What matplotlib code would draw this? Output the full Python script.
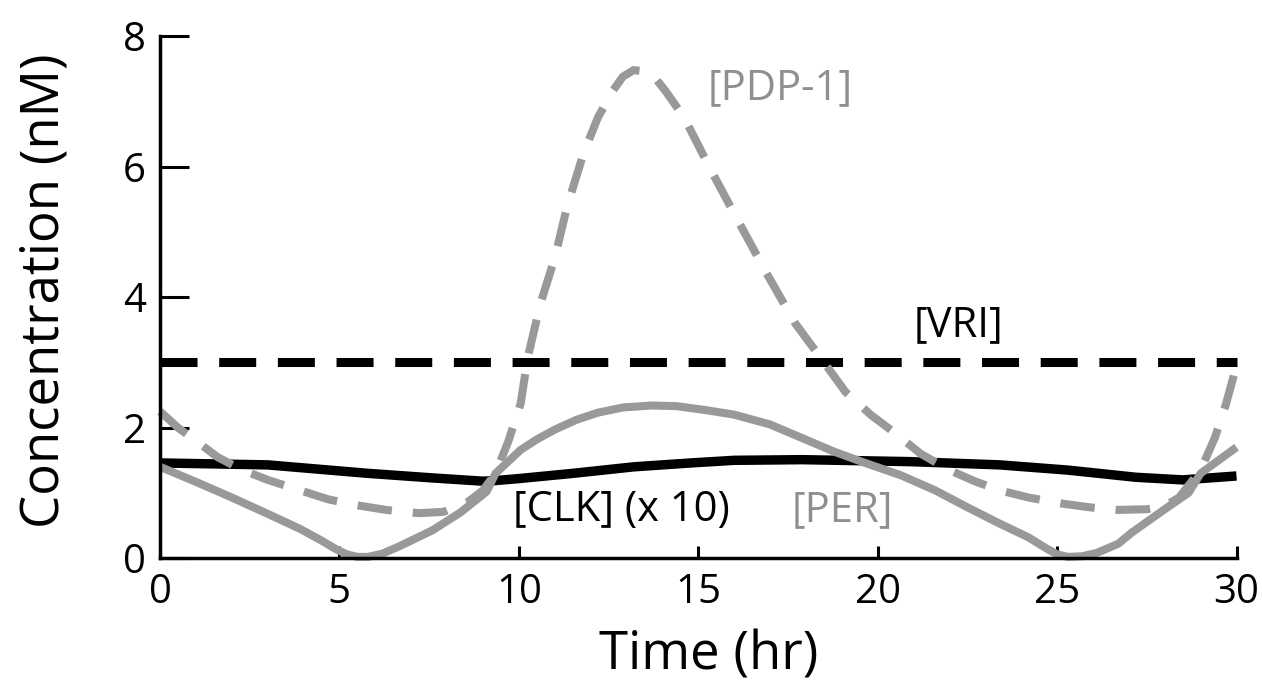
import numpy as np
import matplotlib
matplotlib.use("Agg")
import matplotlib.pyplot as plt

plt.rcParams['font.family'] = ['Open Sans', 'DejaVu Sans']

# valeurs (temps en h, concentration en nM)
t_per = [0, 1.0, 2.0, 3.0, 3.9, 4.5, 4.9, 5.2, 5.5, 5.8, 6.2, 6.7, 7.6, 8.37,
         9.1, 9.35, 10.05, 10.5, 11.0, 11.6, 12.2, 12.9, 13.7, 14.4, 15.2,
         16.0, 17.0, 17.9, 18.8, 19.7, 20.65, 21.6, 22.5, 23.4, 24.2, 24.7,
         25.0, 25.3, 25.7, 26.1, 26.7, 27.1, 28.0, 28.66, 29.0, 30.0]
per = [1.40, 1.17, 0.93, 0.68, 0.45, 0.27, 0.14, 0.06, 0.02, 0.02, 0.07, 0.19,
       0.43, 0.70, 1.02, 1.30, 1.66, 1.82, 1.97, 2.12, 2.23, 2.31, 2.34, 2.33,
       2.27, 2.20, 2.05, 1.84, 1.63, 1.45, 1.27, 1.04, 0.78, 0.53, 0.32, 0.15,
       0.06, 0.02, 0.03, 0.08, 0.22, 0.40, 0.75, 1.0, 1.30, 1.70]

t_pdp = [0, 0.5, 1.0, 1.6, 2.3, 3.0, 3.9, 4.7, 5.5, 6.3, 7.2, 7.9, 8.6, 9.0,
         9.35, 9.7, 10.05, 10.25, 10.6, 11.0, 11.35, 11.8, 12.2, 12.6, 12.9,
         13.2, 13.5, 13.8, 14.1, 14.6, 15.35, 16.1, 16.9, 17.7, 18.4, 19.1,
         19.8, 20.5, 21.2, 22.0, 22.7, 23.4, 24.2, 25.1, 25.9, 26.7, 27.5,
         28.0, 28.4, 29.0, 29.4, 29.7, 30.0]
pdp1 = [2.25, 2.0, 1.8, 1.55, 1.35, 1.2, 1.04, 0.9, 0.81, 0.74, 0.69, 0.71,
        0.87, 1.04, 1.30, 1.78, 2.37, 3.08, 3.9, 4.6, 5.4, 6.2, 6.75, 7.15,
        7.38, 7.48, 7.46, 7.36, 7.15, 6.76, 5.95, 5.18, 4.37, 3.6, 3.08, 2.55,
        2.2, 1.91, 1.6, 1.35, 1.18, 1.04, 0.93, 0.84, 0.78, 0.74, 0.75, 0.8,
        0.93, 1.35, 1.85, 2.35, 2.95]

t_clk = [0, 3.0, 5.8, 7.6, 9.0, 9.35, 10.0, 11.5, 13.2, 14.8, 16.0, 17.9,
         20.9, 23.4, 25.3, 27.2, 28.5, 29.0, 30.0]
clk = [1.46, 1.43, 1.30, 1.23, 1.18, 1.19, 1.22, 1.30, 1.40, 1.46, 1.50,
       1.51, 1.48, 1.43, 1.35, 1.24, 1.20, 1.22, 1.26]

t_vri = [0, 30]
vri = [3.0, 3.0]

xticks = [0, 5, 10, 15, 20, 25, 30]
yticks = [0, 2, 4, 6, 8]

gris = '#999999'
gris_txt = '#8f8f8f'

fig = plt.figure(figsize=(12.62, 6.96), dpi=100)
ax = fig.add_axes([0.1268, 0.198, 0.853, 0.75])

ax.plot(t_vri, vri, color='black', lw=6.5, dashes=(4.1, 2.4),
        dash_capstyle='butt', clip_on=False)
ax.plot(t_clk, clk, color='black', lw=6.8, solid_capstyle='butt',
        solid_joinstyle='round', clip_on=False)
ax.plot(t_per, per, color=gris, lw=5.8, solid_capstyle='butt',
        solid_joinstyle='round', clip_on=False)
ax.plot(t_pdp, pdp1, color=gris, lw=5.8, dashes=(4.3, 2.6),
        dash_capstyle='butt', dash_joinstyle='round', clip_on=False)

ax.text(15.27, 7.2, '[PDP-1]', color=gris_txt, fontsize=30, va='center')
ax.text(21.0, 3.57, '[VRI]', color='black', fontsize=30, va='center')
ax.text(9.85, 0.74, '[CLK] (x 10)', color='black', fontsize=30, va='center')
ax.text(17.6, 0.74, '[PER]', color=gris_txt, fontsize=30, va='center')

ax.set_xlim(0, 30)
ax.set_ylim(0, 8)
ax.set_xticks(xticks)
ax.set_yticks(yticks)
ax.spines['top'].set_visible(False)
ax.spines['right'].set_visible(False)
for s in ('left', 'bottom'):
    ax.spines[s].set_linewidth(2.5)
ax.tick_params(axis='y', direction='in', length=21, width=2.2, pad=10,
               labelsize=29)
ax.tick_params(axis='x', direction='in', length=9, width=2.2, pad=10,
               labelsize=29)

ax.set_xlabel('Time (hr)', fontsize=38)
ax.set_ylabel('Concentration (nM)', fontsize=38)
ax.xaxis.label.set_va('center')
ax.yaxis.label.set_va('center')
ax.xaxis.set_label_coords(0.51, -0.186)
ax.yaxis.set_label_coords(-0.107, 0.513)

fig.savefig('out.png', dpi=100)
